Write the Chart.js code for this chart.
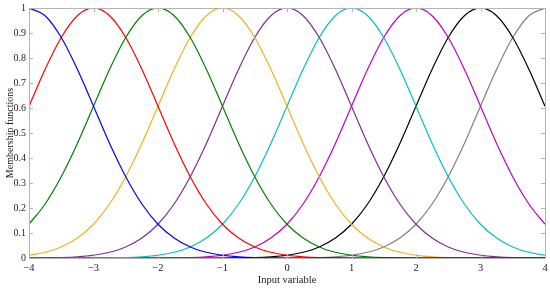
<!DOCTYPE html>
<html>
<head>
<meta charset="utf-8">
<script src="https://cdn.jsdelivr.net/npm/chart.js@4/dist/chart.umd.min.js"></script>
<style>
html,body{margin:0;padding:0;background:#fff;}
#wrap{width:550px;height:288px;position:relative;}
</style>
</head>
<body>
<div id="wrap"><canvas id="c" width="550" height="288"></canvas></div>
<script>
// x positions (input variable)
const xValues = [-4,-3.75,-3.5,-3.25,-3,-2.75,-2.5,-2.25,-2,-1.75,-1.5,-1.25,-1,-0.75,-0.5,-0.25,0,0.25,0.5,0.75,1,1.25,1.5,1.75,2,2.25,2.5,2.75,3,3.25,3.5,3.75,4];
const xTicks = [-4,-3,-2,-1,0,1,2,3,4];
const yTicks = [0,0.1,0.2,0.3,0.4,0.5,0.6,0.7,0.8,0.9,1];

// membership function values
const mfA = [1,.969,.882,.755,.607,.458,.325,.216,.135,.080,.044,.023,.011,.005,.002,.001,0,0,0,0,0,0,0,0,0,0,0,0,0,0,0,0,0];
const mfB = [.607,.755,.882,.969,1,.969,.882,.755,.607,.458,.325,.216,.135,.080,.044,.023,.011,.005,.002,.001,0,0,0,0,0,0,0,0,0,0,0,0,0];
const mfC = [.135,.216,.325,.458,.607,.755,.882,.969,1,.969,.882,.755,.607,.458,.325,.216,.135,.080,.044,.023,.011,.005,.002,.001,0,0,0,0,0,0,0,0,0];
const mfD = [.011,.023,.044,.080,.135,.216,.325,.458,.607,.755,.882,.969,1,.969,.882,.755,.607,.458,.325,.216,.135,.080,.044,.023,.011,.005,.002,.001,0,0,0,0,0];
const mfE = [0,.001,.002,.005,.011,.023,.044,.080,.135,.216,.325,.458,.607,.755,.882,.969,1,.969,.882,.755,.607,.458,.325,.216,.135,.080,.044,.023,.011,.005,.002,.001,0];
const mfF = [0,0,0,0,0,.001,.002,.005,.011,.023,.044,.080,.135,.216,.325,.458,.607,.755,.882,.969,1,.969,.882,.755,.607,.458,.325,.216,.135,.080,.044,.023,.011];
const mfG = [0,0,0,0,0,0,0,0,0,.001,.002,.005,.011,.023,.044,.080,.135,.216,.325,.458,.607,.755,.882,.969,1,.969,.882,.755,.607,.458,.325,.216,.135];
const mfH = [0,0,0,0,0,0,0,0,0,0,0,0,0,.001,.002,.005,.011,.023,.044,.080,.135,.216,.325,.458,.607,.755,.882,.969,1,.969,.882,.755,.607];
const mfI = [0,0,0,0,0,0,0,0,0,0,0,0,0,0,0,0,0,.001,.002,.005,.011,.023,.044,.080,.135,.216,.325,.458,.607,.755,.882,.969,1];

const seriesList = [mfA,mfB,mfC,mfD,mfE,mfF,mfG,mfH,mfI];
const colors = ['#0000ff','#ff0000','#008000','#f0b020','#7e2f8e','#00c0c0','#c000c0','#000000','#808080'];

const datasets = seriesList.map((s,i)=>({
  data: s.map((v,j)=>({x:xValues[j], y:v})),
  borderColor: colors[i],
  borderWidth: 1.2,
  pointRadius: 0,
  fill: false,
  cubicInterpolationMode: 'monotone'
}));

const FONT = "'Liberation Serif', 'DejaVu Serif', serif";
const AXIS = '#b4b4b4';

const inwardTicks = {
  id: 'inwardTicks',
  afterDraw(chart){
    const {ctx, chartArea:a, scales:{x,y}} = chart;
    ctx.save();
    ctx.strokeStyle = AXIS;
    ctx.lineWidth = 1;
    ctx.beginPath();
    ctx.rect(Math.round(a.left)+0.5, Math.round(a.top)+0.5, Math.round(a.right-a.left), Math.round(a.bottom-a.top));
    ctx.stroke();
    const L = 4;
    ctx.beginPath();
    xTicks.forEach(v=>{
      const px = Math.round(x.getPixelForValue(v))+0.5;
      ctx.moveTo(px, a.bottom); ctx.lineTo(px, a.bottom-L);
      ctx.moveTo(px, a.top); ctx.lineTo(px, a.top+L);
    });
    yTicks.forEach(v=>{
      const py = Math.round(y.getPixelForValue(v))+0.5;
      ctx.moveTo(a.left, py); ctx.lineTo(a.left+L, py);
      ctx.moveTo(a.right, py); ctx.lineTo(a.right-L, py);
    });
    ctx.stroke();
    ctx.restore();
  }
};

new Chart(document.getElementById('c'), {
  type: 'line',
  data: { datasets },
  options: {
    responsive: false,
    animation: false,
    layout: { padding: { left: 0, right: 5, top: 8, bottom: 0 } },
    plugins: { legend: { display: false }, tooltip: { enabled: false } },
    scales: {
      x: {
        type: 'linear', min: -4, max: 4,
        afterFit: s => { s.height = 30; s.paddingLeft = 0; s.paddingRight = 0; },
        afterBuildTicks: s => { s.ticks = xTicks.map(v=>({value:v})); },
        grid: { display: false, drawTicks: false },
        border: { display: false },
        ticks: {
          padding: 4, color: '#222', font: { family: FONT, size: 10.5 },
          maxRotation: 0,
          callback: v => (v < 0 ? '\u2212' + Math.abs(v) : String(v))
        },
        title: { display: true, text: 'Input variable', color: '#222', font: { family: FONT, size: 10.5 }, padding: { top: 0, bottom: 1 } }
      },
      y: {
        type: 'linear', min: 0, max: 1,
        afterFit: s => { s.width = 29; s.paddingTop = 0; s.paddingBottom = 0; },
        afterBuildTicks: s => { s.ticks = yTicks.map(v=>({value:v})); },
        grid: { display: false, drawTicks: false },
        border: { display: false },
        ticks: {
          padding: 3, color: '#222', font: { family: FONT, size: 10 },
          callback: v => String(Math.round(v*10)/10)
        },
        title: { display: true, text: 'Membership functions', color: '#222', font: { family: FONT, size: 10 }, padding: { top: 4, bottom: 0 } }
      }
    }
  },
  plugins: [inwardTicks]
});
</script>
</body>
</html>
